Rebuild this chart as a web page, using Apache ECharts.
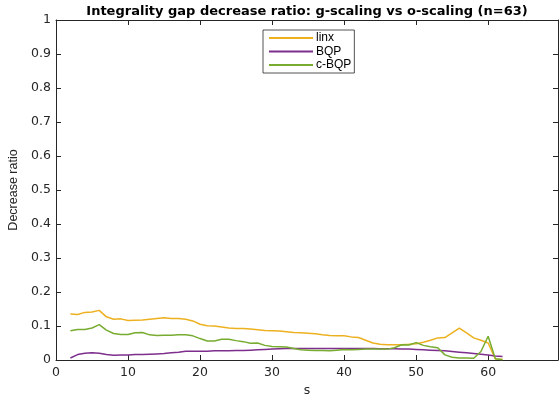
<!DOCTYPE html>
<html>
<head>
<meta charset="utf-8">
<script src="https://cdn.jsdelivr.net/npm/echarts@6/dist/echarts.min.js"></script>
<style>
  html, body { margin: 0; padding: 0; background: #fff; }
  #chart { width: 560px; height: 397px; }
</style>
</head>
<body>
<div id="chart"></div>
<script>
// Subproblem size s (2..62)
const sValues = [2,3,4,5,6,7,8,9,10,11,12,13,14,15,16,17,18,19,20,21,22,23,24,25,26,27,28,29,30,31,32,33,34,35,36,37,38,39,40,41,42,43,44,45,46,47,48,49,50,51,52,53,54,55,56,57,58,59,60,61,62];

const linx = [0.135,0.134,0.140,0.141,0.146,0.127,0.120,0.121,0.116,0.117,0.118,0.120,0.122,0.124,0.122,0.122,0.120,0.115,0.105,0.101,0.100,0.097,0.094,0.093,0.093,0.091,0.089,0.087,0.086,0.085,0.083,0.081,0.080,0.079,0.077,0.074,0.072,0.071,0.071,0.068,0.066,0.058,0.050,0.046,0.045,0.045,0.045,0.046,0.048,0.052,0.058,0.065,0.066,0.080,0.094,0.080,0.065,0.058,0.050,0.003,0.002];

const bqp = [0.006,0.016,0.020,0.021,0.020,0.016,0.014,0.015,0.015,0.016,0.016,0.017,0.018,0.019,0.021,0.023,0.026,0.026,0.026,0.026,0.027,0.027,0.027,0.028,0.028,0.029,0.030,0.031,0.032,0.033,0.034,0.034,0.034,0.034,0.034,0.034,0.034,0.034,0.034,0.034,0.034,0.034,0.034,0.033,0.033,0.033,0.032,0.032,0.031,0.030,0.029,0.028,0.027,0.025,0.023,0.021,0.019,0.017,0.015,0.012,0.010];

const cbqp = [0.086,0.090,0.090,0.094,0.104,0.088,0.078,0.075,0.075,0.080,0.081,0.074,0.072,0.073,0.073,0.074,0.074,0.071,0.063,0.056,0.056,0.061,0.061,0.057,0.054,0.049,0.050,0.043,0.040,0.039,0.038,0.034,0.030,0.029,0.028,0.028,0.027,0.029,0.031,0.030,0.031,0.032,0.032,0.032,0.032,0.036,0.045,0.044,0.051,0.043,0.039,0.036,0.015,0.008,0.006,0.006,0.005,0.025,0.070,0.004,0.001];

const seriesNames = ['linx', 'BQP', 'c-BQP'];
const seriesColors = ['#EDB120', '#7E2F8E', '#77AC30'];
const seriesValues = [linx, bqp, cbqp];

const SANS = '"Liberation Sans", Arial, Helvetica, sans-serif';
const WIDE = '"DejaVu Sans", Verdana, sans-serif';
const INK = '#262626';

const chart = echarts.init(document.getElementById('chart'), null, { renderer: 'canvas' });

// Box-style axes: ticks point into the plot on all four sides
const axisCommon = {
  axisLine: { show: true, onZero: false, lineStyle: { color: INK, width: 1 } },
  axisTick: { show: true, inside: true, length: 5, lineStyle: { color: INK, width: 1 } },
  splitLine: { show: false }
};

const tickFont = { fontFamily: WIDE, fontSize: 12.5, color: INK };

chart.setOption({
  animation: false,
  backgroundColor: '#fff',
  title: {
    text: 'Integrality gap decrease ratio: g-scaling vs o-scaling (n=63)',
    left: 307, top: 5, textAlign: 'center', padding: 0,
    textStyle: { fontFamily: WIDE, fontSize: 13, fontWeight: 'bold', color: '#000' }
  },
  legend: {
    data: seriesNames,
    orient: 'vertical',
    left: 263, top: 30,
    backgroundColor: '#fff',
    borderColor: INK, borderWidth: 0.8,
    padding: [2, 3, 2, 5],
    itemWidth: 44, itemHeight: 10, itemGap: 1.5,
    itemStyle: { opacity: 0 },
    textStyle: { fontFamily: SANS, fontSize: 12, lineHeight: 10, color: '#000', padding: [0, 0, 0, -2] }
  },
  grid: { left: 56, right: 2, top: 20, bottom: 37, containLabel: false, outerBoundsMode: 'none' },
  xAxis: [
    Object.assign({}, axisCommon, {
      type: 'value', min: 0, max: 69.7, interval: 10, position: 'bottom',
      name: 's', nameLocation: 'middle', nameGap: 22,
      nameTextStyle: { fontFamily: WIDE, fontSize: 12.5, color: INK },
      axisLabel: Object.assign({ showMaxLabel: false, margin: 6 }, tickFont)
    }),
    Object.assign({}, axisCommon, {
      type: 'value', min: 0, max: 69.7, interval: 10, position: 'top',
      axisLabel: { show: false }
    })
  ],
  yAxis: [
    Object.assign({}, axisCommon, {
      type: 'value', min: 0, max: 1, interval: 0.1, position: 'left',
      name: 'Decrease ratio', nameLocation: 'middle', nameGap: 30,
      nameTextStyle: { fontFamily: SANS, fontSize: 12.5, color: INK },
      axisLabel: Object.assign({ margin: 5 }, tickFont)
    }),
    Object.assign({}, axisCommon, {
      type: 'value', min: 0, max: 1, interval: 0.1, position: 'right',
      axisLabel: { show: false }
    })
  ],
  series: seriesNames.map((name, i) => ({
    name: name,
    type: 'line',
    xAxisIndex: 0, yAxisIndex: 0,
    data: sValues.map((s, k) => [s, seriesValues[i][k]]),
    showSymbol: false, symbol: 'none',
    color: seriesColors[i],
    lineStyle: { color: seriesColors[i], width: 1.5 }
  }))
});
</script>
</body>
</html>
